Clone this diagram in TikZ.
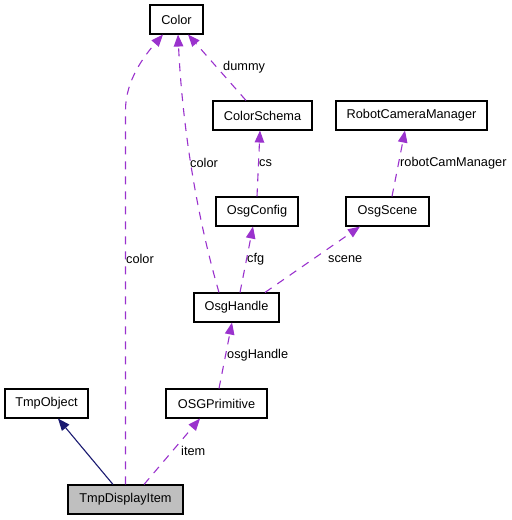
\documentclass[tikz,border=0pt]{standalone}
\usepackage{fontspec}
\setmainfont{Liberation Sans}
\usetikzlibrary{arrows.meta}
\usetikzlibrary{positioning}
\definecolor{usepurple}{HTML}{9A32CD}
\definecolor{inhnavy}{HTML}{191970}
\definecolor{boxgray}{HTML}{BFBFBF}

\begin{document}
\begin{tikzpicture}[x=1bp, y=-1bp,
	cls/.style={draw, rectangle, line width=1.1bp, minimum height=29bp, inner sep=0pt, font=\fontsize{12.8}{15}\selectfont},
	lbl/.style={anchor=west, inner sep=0pt, font=\fontsize{12.8}{15}\selectfont},
	usage/.style={usepurple, line width=1.1bp, dash pattern=on 8bp off 7bp, -{Triangle[length=12bp,width=9.5bp]}},
	inherit/.style={inhnavy, line width=1.1bp, -{Triangle[length=12bp,width=9.5bp]}}]
	\useasboundingbox (0,0) rectangle (512,520);
	
	%classes
	\node[cls, minimum width=53bp] (color) at (176.5,19.5) {Color};
	\node[cls, minimum width=99bp] (schema) at (262.5,115.5) {ColorSchema};
	\node[cls, minimum width=151bp] (robotcam) at (411.5,115.5) {RobotCameraManager};
	\node[cls, minimum width=82bp] (osgconfig) at (257,211.5) {OsgConfig};
	\node[cls, minimum width=83bp] (osgscene) at (387.5,211.5) {OsgScene};
	\node[cls, minimum width=85bp] (osghandle) at (236.5,307.5) {OsgHandle};
	\node[cls, minimum width=83bp] (tmpobj) at (46.5,403.5) {TmpObject};
	\node[cls, minimum width=101bp] (osgprim) at (216.5,403.5) {OSGPrimitive};
	\node[cls, minimum width=115bp, fill=boxgray] (tmpitem) at (125.5,499.5) {TmpDisplayItem};
	
	%inheritance
	\draw[inherit] ([xshift=-12.5bp]tmpitem.north) -- ([xshift=11.5bp]tmpobj.south);
	
	%members
	\coordinate (bend) at (125.5,110);
	\draw[usage] (tmpitem.north) -- (bend) .. controls (125.5,80) and (145,55) .. ([xshift=-13.5bp]color.south);
	\draw[usage] ([xshift=18.5bp]tmpitem.north) -- ([xshift=-16.5bp]osgprim.south);
	\draw[usage] ([xshift=2.5bp]osgprim.north) -- ([xshift=-4.5bp]osghandle.south);
	\draw[usage] ([xshift=-17.5bp]osghandle.north) .. controls (195,210) and (182,120) .. ([xshift=1.5bp]color.south);
	\draw[usage] ([xshift=3.5bp]osghandle.north) -- ([xshift=-4bp]osgconfig.south);
	\draw[usage] ([xshift=28.5bp]osghandle.north) -- ([xshift=-27.5bp]osgscene.south);
	\draw[usage] (osgconfig.north) -- ([xshift=-2.5bp]schema.south);
	\draw[usage] ([xshift=-16.5bp]schema.north) -- ([xshift=11.5bp]color.south);
	\draw[usage] ([xshift=4.5bp]osgscene.north) -- ([xshift=-6.5bp]robotcam.south);
	
	%labels
	\node[lbl] (lcolora) at (126,259) {color};
	\node[lbl] (lcolorb) at (190,163) {color};
	\node[lbl] (ldummy) at (223,67) {dummy};
	\node[lbl] (lcs) at (259,163) {cs};
	\node[lbl] (lcfg) at (247,259) {cfg};
	\node[lbl] (lscene) at (328,259) {scene};
	\node[lbl] (lhandle) at (227,355) {osgHandle};
	\node[lbl] (litem) at (181,451) {item};
	\node[lbl] (lrobot) at (400,163) {robotCamManager};
\end{tikzpicture}
\end{document}
